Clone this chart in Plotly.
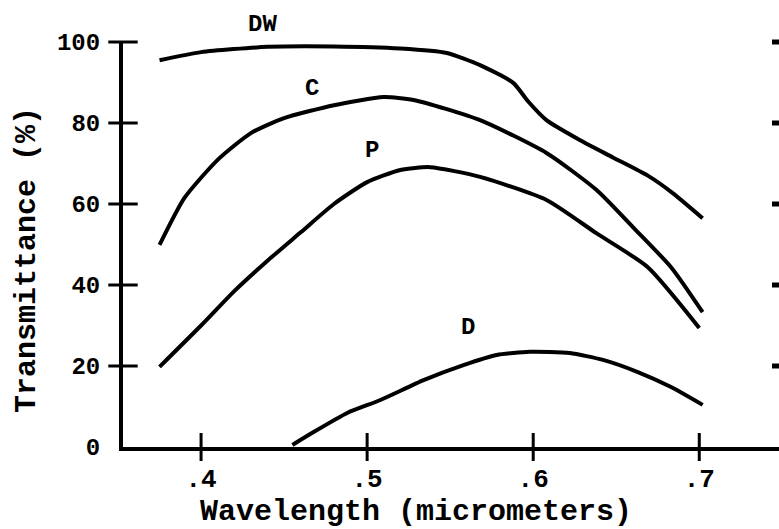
import plotly.graph_objects as go

# Data
dw_x = [0.375, 0.40, 0.44, 0.48, 0.52, 0.548, 0.568, 0.588, 0.597, 0.608, 0.628, 0.648, 0.669, 0.684, 0.702]
dw_y = [95.5, 97.5, 98.8, 98.9, 98.4, 97.3, 94.3, 89.9, 85.3, 80.7, 75.8, 71.5, 67.0, 62.7, 56.5]

c_x = [0.375, 0.39, 0.41, 0.43, 0.45, 0.48, 0.51, 0.528, 0.568, 0.608, 0.638, 0.66, 0.683, 0.702]
c_y = [49.9, 61.5, 70.9, 77.5, 81.2, 84.4, 86.4, 85.7, 80.7, 72.6, 63.5, 54.3, 44.4, 33.3]

p_x = [0.375, 0.40, 0.42, 0.44, 0.46, 0.48, 0.50, 0.52, 0.538, 0.568, 0.608, 0.638, 0.669, 0.70]
p_y = [19.8, 30.0, 38.5, 46.0, 53.0, 60.0, 65.4, 68.4, 69.1, 66.7, 61.0, 52.8, 44.4, 29.4]

d_x = [0.455, 0.467, 0.488, 0.508, 0.534, 0.558, 0.578, 0.598, 0.622, 0.642, 0.663, 0.683, 0.702]
d_y = [0.5, 3.5, 8.4, 11.6, 16.5, 20.2, 22.7, 23.5, 23.2, 21.5, 18.5, 14.8, 10.4]

curve_labels = ["DW", "C", "P", "D"]
label_x = [0.437, 0.467, 0.503, 0.561]
label_y = [104.4, 88.6, 73.3, 29.4]

x_ticks = [0.4, 0.5, 0.6, 0.7]
x_tick_text = [".4", ".5", ".6", ".7"]
y_ticks = [0, 20, 40, 60, 80, 100]
y_tick_text = ["0", "20", "40", "60", "80", "100"]
y_mark_ticks = [20, 40, 60, 80, 100]

FONT = "Liberation Mono"
L, R, T, B = 123, 779, 42, 447
XR = [0.353, 0.748]
YR = [0, 100]

fig = go.Figure()
for xs, ys in [(dw_x, dw_y), (c_x, c_y), (p_x, p_y), (d_x, d_y)]:
    fig.add_trace(go.Scatter(x=xs, y=ys, mode="lines",
                             line=dict(color="black", width=4, shape="spline", smoothing=0.6),
                             showlegend=False, hoverinfo="skip", cliponaxis=False))

# tick marks crossing the axes (drawn as line markers at the tick values)
fig.add_trace(go.Scatter(x=x_ticks, y=[YR[0]] * len(x_ticks), mode="markers", cliponaxis=False,
                         marker=dict(symbol="line-ns", size=20, line=dict(color="black", width=3)),
                         showlegend=False, hoverinfo="skip"))
fig.add_trace(go.Scatter(x=[XR[0]] * len(y_mark_ticks), y=y_mark_ticks, mode="markers", cliponaxis=False,
                         marker=dict(symbol="line-ew", size=21, line=dict(color="black", width=3)),
                         showlegend=False, hoverinfo="skip"))
fig.add_trace(go.Scatter(x=[XR[1]] * len(y_mark_ticks), y=y_mark_ticks, mode="markers", cliponaxis=False,
                         marker=dict(symbol="line-ew", size=10, line=dict(color="black", width=5)),
                         showlegend=False, hoverinfo="skip"))

for t, x, y in zip(curve_labels, label_x, label_y):
    fig.add_annotation(x=(x - XR[0]) / (XR[1] - XR[0]), y=(y - YR[0]) / (YR[1] - YR[0]),
                       xref="paper", yref="paper", text=t, showarrow=False,
                       xanchor="center", yanchor="middle",
                       font=dict(family=FONT, size=24, color="black", weight="bold"))

fig.add_annotation(x=(416 - L) / (R - L), y=-(512 - B) / (B - T), xref="paper", yref="paper",
                   text="Wavelength (micrometers)", showarrow=False,
                   xanchor="center", yanchor="middle",
                   font=dict(family=FONT, size=30, color="black", weight="bold"))
fig.add_annotation(x=-(L - 27) / (R - L), y=(B - 260) / (B - T), xref="paper", yref="paper",
                   text="Transmittance (%)", textangle=-90, showarrow=False,
                   xanchor="center", yanchor="middle",
                   font=dict(family=FONT, size=30, color="black", weight="bold"))

common = dict(showgrid=False, zeroline=False, automargin=False)
fig.update_layout(
    template="none",
    width=779, height=529,
    margin=dict(l=L, r=779 - R, t=T, b=529 - B, autoexpand=False),
    paper_bgcolor="white", plot_bgcolor="white",
    font=dict(family=FONT, color="black"),
    xaxis=dict(range=XR, tickvals=x_ticks, ticktext=x_tick_text, ticks="",
               showline=True, linewidth=4, linecolor="black", ticklabelstandoff=5,
               tickfont=dict(family=FONT, size=26, color="black", weight="bold"), **common),
    yaxis=dict(range=YR, tickvals=y_ticks, ticktext=y_tick_text, ticks="",
               showline=True, linewidth=4, linecolor="black", ticklabelstandoff=14,
               tickfont=dict(family=FONT, size=24, color="black", weight="bold"), **common),
)

fig.write_html("out.html", config={"displayModeBar": False},
               post_script="document.body.style.margin='0';document.body.style.padding='0';")
